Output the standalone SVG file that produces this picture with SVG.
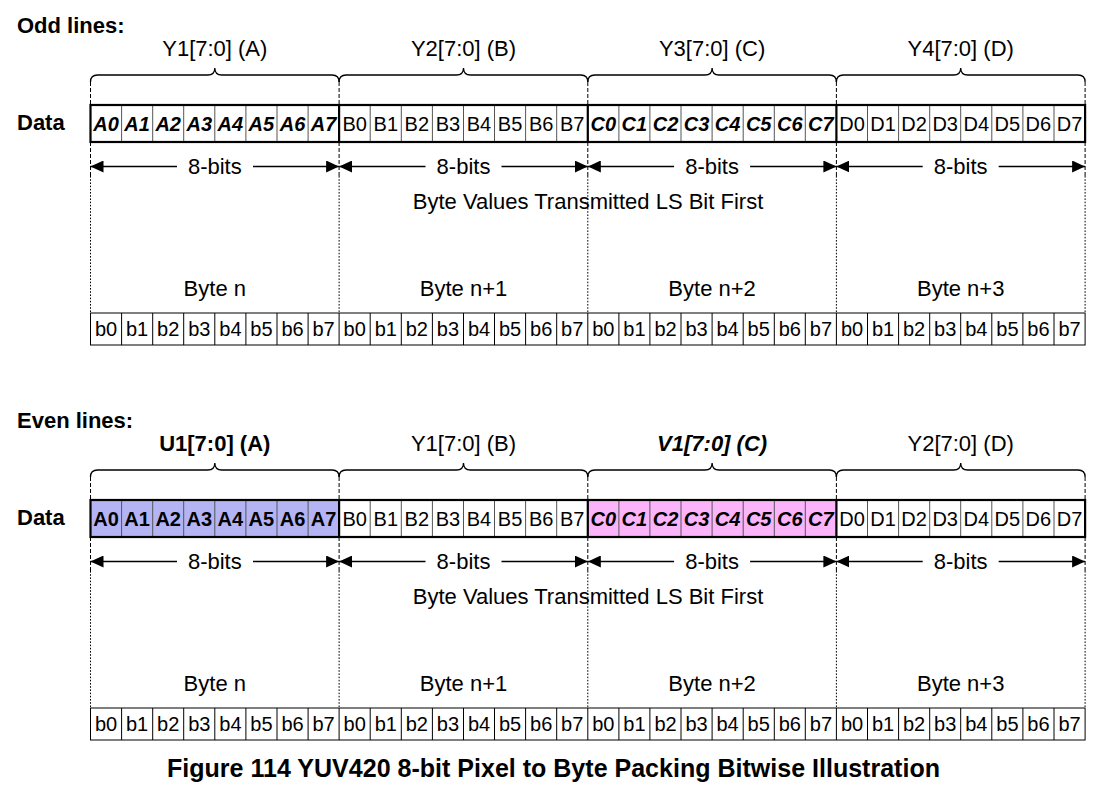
<svg xmlns="http://www.w3.org/2000/svg" width="1104" height="786" viewBox="0 0 1104 786">
<defs>
<marker id="ah" viewBox="0 0 13 12" markerWidth="13" markerHeight="12" refX="13" refY="6" orient="auto" markerUnits="userSpaceOnUse"><path d="M0,0 L13,6 L0,12 z" fill="#000"/></marker>
<style>
text{font-family:"Liberation Sans",Arial,sans-serif;fill:#000}
.h{font-size:22px;font-weight:bold}
.lb{font-size:22px;text-anchor:middle}
.c{font-size:20px;text-anchor:middle}
.bi{font-weight:bold;font-style:italic}
.b{font-weight:bold}
.t{font-size:22px;text-anchor:middle}
.brace{fill:none;stroke:#000;stroke-width:1.3}
.dash{stroke:#000;stroke-width:1;stroke-dasharray:4,2;fill:none}
.dot{stroke:#000;stroke-width:1;stroke-dasharray:1.6,1.6;fill:none}
.arr{stroke:#000;stroke-width:1.3;marker-end:url(#ah)}
.thin{stroke:#555;stroke-width:1;fill:none}
.thinb{stroke:#000;stroke-width:1;fill:none}
.thick{stroke:#000;stroke-width:2.2;fill:none}
</style>
</defs>
<rect width="1104" height="786" fill="#fff"/>

<!-- ================= ODD LINES ================= -->
<g id="odd-lines">
<text class="h" x="17" y="33">Odd lines:</text>
<text class="h" x="17" y="130">Data</text>
</g>

<g id="odd-connectors">
<path class="brace" d="M90.5,82 Q90.5,75 97.5,75 L207.8,75 Q214.8,75 214.8,68 Q214.8,75 221.8,75 L332.1,75 Q339.1,75 339.1,82"/>
<path class="brace" d="M339.1,82 Q339.1,75 346.1,75 L456.5,75 Q463.5,75 463.5,68 Q463.5,75 470.5,75 L580.8,75 Q587.8,75 587.8,82"/>
<path class="brace" d="M587.8,82 Q587.8,75 594.8,75 L705.1,75 Q712.1,75 712.1,68 Q712.1,75 719.1,75 L829.4,75 Q836.4,75 836.4,82"/>
<path class="brace" d="M836.4,82 Q836.4,75 843.4,75 L953.7,75 Q960.7,75 960.7,68 Q960.7,75 967.7,75 L1078.1,75 Q1085.1,75 1085.1,82"/>
<path class="dash" d="M90.5,82V105 M339.1,82V105 M587.8,82V105 M836.4,82V105 M1085.1,82V105 M90.5,142V176 M339.1,142V176 M587.8,142V176 M836.4,142V176 M1085.1,142V176"/>
<path class="dot" d="M90.5,176V313 M339.1,176V313 M587.8,176V313 M836.4,176V313 M1085.1,176V313"/>
<line class="arr" x1="177" y1="166.5" x2="90.5" y2="166.5"/>
<line class="arr" x1="253" y1="166.5" x2="339.1" y2="166.5"/>
<line class="arr" x1="425.5" y1="166.5" x2="339.1" y2="166.5"/>
<line class="arr" x1="501.5" y1="166.5" x2="587.8" y2="166.5"/>
<line class="arr" x1="674.1" y1="166.5" x2="587.8" y2="166.5"/>
<line class="arr" x1="750.1" y1="166.5" x2="836.4" y2="166.5"/>
<line class="arr" x1="922.7" y1="166.5" x2="836.4" y2="166.5"/>
<line class="arr" x1="998.7" y1="166.5" x2="1085.1" y2="166.5"/>
</g>

<g id="odd-labels">
<text class="lb" x="214.8" y="55.5">Y1[7:0] (A)</text>
<text class="lb" x="463.5" y="55.5">Y2[7:0] (B)</text>
<text class="lb" x="712.1" y="55.5">Y3[7:0] (C)</text>
<text class="lb" x="960.7" y="55.5">Y4[7:0] (D)</text>
<text class="t" x="214.8" y="174">8-bits</text>
<text class="t" x="463.5" y="174">8-bits</text>
<text class="t" x="712.1" y="174">8-bits</text>
<text class="t" x="960.7" y="174">8-bits</text>
<text class="t" x="588" y="209">Byte Values Transmitted LS Bit First</text>
<text class="t" x="214.8" y="296">Byte n</text>
<text class="t" x="463.5" y="296">Byte n+1</text>
<text class="t" x="712.1" y="296">Byte n+2</text>
<text class="t" x="960.7" y="296">Byte n+3</text>
</g>

<g id="odd-data-row">
<path class="thin" d="M121.6,105V142 M152.7,105V142 M183.7,105V142 M214.8,105V142 M245.9,105V142 M277,105V142 M308.1,105V142 M370.2,105V142 M401.3,105V142 M432.4,105V142 M463.5,105V142 M494.5,105V142 M525.6,105V142 M556.7,105V142 M618.9,105V142 M649.9,105V142 M681,105V142 M712.1,105V142 M743.2,105V142 M774.3,105V142 M805.3,105V142 M867.5,105V142 M898.6,105V142 M929.7,105V142 M960.7,105V142 M991.8,105V142 M1022.9,105V142 M1054,105V142"/>
<rect class="thick" x="90.5" y="105" width="994.6" height="37"/>
<path class="thick" d="M339.1,105V142 M587.8,105V142 M836.4,105V142"/>
<g class="c bi">
<text x="106" y="130.5">A0</text><text x="137.1" y="130.5">A1</text><text x="168.2" y="130.5">A2</text><text x="199.3" y="130.5">A3</text><text x="230.4" y="130.5">A4</text><text x="261.4" y="130.5">A5</text><text x="292.5" y="130.5">A6</text><text x="323.6" y="130.5">A7</text>
</g>
<g class="c">
<text x="354.7" y="130.5">B0</text><text x="385.8" y="130.5">B1</text><text x="416.8" y="130.5">B2</text><text x="447.9" y="130.5">B3</text><text x="479" y="130.5">B4</text><text x="510.1" y="130.5">B5</text><text x="541.2" y="130.5">B6</text><text x="572.2" y="130.5">B7</text>
</g>
<g class="c bi">
<text x="603.3" y="130.5">C0</text><text x="634.4" y="130.5">C1</text><text x="665.5" y="130.5">C2</text><text x="696.6" y="130.5">C3</text><text x="727.6" y="130.5">C4</text><text x="758.7" y="130.5">C5</text><text x="789.8" y="130.5">C6</text><text x="820.9" y="130.5">C7</text>
</g>
<g class="c">
<text x="852" y="130.5">D0</text><text x="883" y="130.5">D1</text><text x="914.1" y="130.5">D2</text><text x="945.2" y="130.5">D3</text><text x="976.3" y="130.5">D4</text><text x="1007.4" y="130.5">D5</text><text x="1038.4" y="130.5">D6</text><text x="1069.5" y="130.5">D7</text>
</g>
</g>

<g id="odd-bit-row">
<rect class="thinb" x="90.5" y="313" width="994.6" height="32"/>
<path class="thinb" d="M121.6,313V345 M152.7,313V345 M183.7,313V345 M214.8,313V345 M245.9,313V345 M277,313V345 M308.1,313V345 M339.1,313V345 M370.2,313V345 M401.3,313V345 M432.4,313V345 M463.5,313V345 M494.5,313V345 M525.6,313V345 M556.7,313V345 M587.8,313V345 M618.9,313V345 M649.9,313V345 M681,313V345 M712.1,313V345 M743.2,313V345 M774.3,313V345 M805.3,313V345 M836.4,313V345 M867.5,313V345 M898.6,313V345 M929.7,313V345 M960.7,313V345 M991.8,313V345 M1022.9,313V345 M1054,313V345"/>
<g class="c">
<text x="106" y="335.5">b0</text><text x="137.1" y="335.5">b1</text><text x="168.2" y="335.5">b2</text><text x="199.3" y="335.5">b3</text><text x="230.4" y="335.5">b4</text><text x="261.4" y="335.5">b5</text><text x="292.5" y="335.5">b6</text><text x="323.6" y="335.5">b7</text>
<text x="354.7" y="335.5">b0</text><text x="385.8" y="335.5">b1</text><text x="416.8" y="335.5">b2</text><text x="447.9" y="335.5">b3</text><text x="479" y="335.5">b4</text><text x="510.1" y="335.5">b5</text><text x="541.2" y="335.5">b6</text><text x="572.2" y="335.5">b7</text>
<text x="603.3" y="335.5">b0</text><text x="634.4" y="335.5">b1</text><text x="665.5" y="335.5">b2</text><text x="696.6" y="335.5">b3</text><text x="727.6" y="335.5">b4</text><text x="758.7" y="335.5">b5</text><text x="789.8" y="335.5">b6</text><text x="820.9" y="335.5">b7</text>
<text x="852" y="335.5">b0</text><text x="883" y="335.5">b1</text><text x="914.1" y="335.5">b2</text><text x="945.2" y="335.5">b3</text><text x="976.3" y="335.5">b4</text><text x="1007.4" y="335.5">b5</text><text x="1038.4" y="335.5">b6</text><text x="1069.5" y="335.5">b7</text>
</g>
</g>

<!-- ================= EVEN LINES ================= -->
<g id="even-lines">
<text class="h" x="17" y="428">Even lines:</text>
<text class="h" x="17" y="525">Data</text>
</g>

<g id="even-connectors" transform="translate(0,395)">
<path class="brace" d="M90.5,82 Q90.5,75 97.5,75 L207.8,75 Q214.8,75 214.8,68 Q214.8,75 221.8,75 L332.1,75 Q339.1,75 339.1,82"/>
<path class="brace" d="M339.1,82 Q339.1,75 346.1,75 L456.5,75 Q463.5,75 463.5,68 Q463.5,75 470.5,75 L580.8,75 Q587.8,75 587.8,82"/>
<path class="brace" d="M587.8,82 Q587.8,75 594.8,75 L705.1,75 Q712.1,75 712.1,68 Q712.1,75 719.1,75 L829.4,75 Q836.4,75 836.4,82"/>
<path class="brace" d="M836.4,82 Q836.4,75 843.4,75 L953.7,75 Q960.7,75 960.7,68 Q960.7,75 967.7,75 L1078.1,75 Q1085.1,75 1085.1,82"/>
<path class="dash" d="M90.5,82V105 M339.1,82V105 M587.8,82V105 M836.4,82V105 M1085.1,82V105 M90.5,142V176 M339.1,142V176 M587.8,142V176 M836.4,142V176 M1085.1,142V176"/>
<path class="dot" d="M90.5,176V313 M339.1,176V313 M587.8,176V313 M836.4,176V313 M1085.1,176V313"/>
<line class="arr" x1="177" y1="166.5" x2="90.5" y2="166.5"/>
<line class="arr" x1="253" y1="166.5" x2="339.1" y2="166.5"/>
<line class="arr" x1="425.5" y1="166.5" x2="339.1" y2="166.5"/>
<line class="arr" x1="501.5" y1="166.5" x2="587.8" y2="166.5"/>
<line class="arr" x1="674.1" y1="166.5" x2="587.8" y2="166.5"/>
<line class="arr" x1="750.1" y1="166.5" x2="836.4" y2="166.5"/>
<line class="arr" x1="922.7" y1="166.5" x2="836.4" y2="166.5"/>
<line class="arr" x1="998.7" y1="166.5" x2="1085.1" y2="166.5"/>
</g>

<g id="even-labels">
<text class="lb b" x="214.8" y="450.5">U1[7:0] (A)</text>
<text class="lb" x="463.5" y="450.5">Y1[7:0] (B)</text>
<text class="lb bi" x="712.1" y="450.5">V1[7:0] (C)</text>
<text class="lb" x="960.7" y="450.5">Y2[7:0] (D)</text>
<text class="t" x="214.8" y="569">8-bits</text>
<text class="t" x="463.5" y="569">8-bits</text>
<text class="t" x="712.1" y="569">8-bits</text>
<text class="t" x="960.7" y="569">8-bits</text>
<text class="t" x="588" y="604">Byte Values Transmitted LS Bit First</text>
<text class="t" x="214.8" y="691">Byte n</text>
<text class="t" x="463.5" y="691">Byte n+1</text>
<text class="t" x="712.1" y="691">Byte n+2</text>
<text class="t" x="960.7" y="691">Byte n+3</text>
</g>

<g id="even-data-row">
<rect x="90.5" y="500" width="248.6" height="37" fill="#b4b4f5"/>
<rect x="587.8" y="500" width="248.6" height="37" fill="#fbb4fa"/>
<path class="thin" transform="translate(0,395)" d="M121.6,105V142 M152.7,105V142 M183.7,105V142 M214.8,105V142 M245.9,105V142 M277,105V142 M308.1,105V142 M370.2,105V142 M401.3,105V142 M432.4,105V142 M463.5,105V142 M494.5,105V142 M525.6,105V142 M556.7,105V142 M618.9,105V142 M649.9,105V142 M681,105V142 M712.1,105V142 M743.2,105V142 M774.3,105V142 M805.3,105V142 M867.5,105V142 M898.6,105V142 M929.7,105V142 M960.7,105V142 M991.8,105V142 M1022.9,105V142 M1054,105V142"/>
<rect class="thick" x="90.5" y="500" width="994.6" height="37"/>
<path class="thick" d="M339.1,500V537 M587.8,500V537 M836.4,500V537"/>
<g class="c b">
<text x="106" y="525.5">A0</text><text x="137.1" y="525.5">A1</text><text x="168.2" y="525.5">A2</text><text x="199.3" y="525.5">A3</text><text x="230.4" y="525.5">A4</text><text x="261.4" y="525.5">A5</text><text x="292.5" y="525.5">A6</text><text x="323.6" y="525.5">A7</text>
</g>
<g class="c">
<text x="354.7" y="525.5">B0</text><text x="385.8" y="525.5">B1</text><text x="416.8" y="525.5">B2</text><text x="447.9" y="525.5">B3</text><text x="479" y="525.5">B4</text><text x="510.1" y="525.5">B5</text><text x="541.2" y="525.5">B6</text><text x="572.2" y="525.5">B7</text>
</g>
<g class="c bi">
<text x="603.3" y="525.5">C0</text><text x="634.4" y="525.5">C1</text><text x="665.5" y="525.5">C2</text><text x="696.6" y="525.5">C3</text><text x="727.6" y="525.5">C4</text><text x="758.7" y="525.5">C5</text><text x="789.8" y="525.5">C6</text><text x="820.9" y="525.5">C7</text>
</g>
<g class="c">
<text x="852" y="525.5">D0</text><text x="883" y="525.5">D1</text><text x="914.1" y="525.5">D2</text><text x="945.2" y="525.5">D3</text><text x="976.3" y="525.5">D4</text><text x="1007.4" y="525.5">D5</text><text x="1038.4" y="525.5">D6</text><text x="1069.5" y="525.5">D7</text>
</g>
</g>

<g id="even-bit-row" transform="translate(0,395)">
<rect class="thinb" x="90.5" y="313" width="994.6" height="32"/>
<path class="thinb" d="M121.6,313V345 M152.7,313V345 M183.7,313V345 M214.8,313V345 M245.9,313V345 M277,313V345 M308.1,313V345 M339.1,313V345 M370.2,313V345 M401.3,313V345 M432.4,313V345 M463.5,313V345 M494.5,313V345 M525.6,313V345 M556.7,313V345 M587.8,313V345 M618.9,313V345 M649.9,313V345 M681,313V345 M712.1,313V345 M743.2,313V345 M774.3,313V345 M805.3,313V345 M836.4,313V345 M867.5,313V345 M898.6,313V345 M929.7,313V345 M960.7,313V345 M991.8,313V345 M1022.9,313V345 M1054,313V345"/>
<g class="c">
<text x="106" y="335.5">b0</text><text x="137.1" y="335.5">b1</text><text x="168.2" y="335.5">b2</text><text x="199.3" y="335.5">b3</text><text x="230.4" y="335.5">b4</text><text x="261.4" y="335.5">b5</text><text x="292.5" y="335.5">b6</text><text x="323.6" y="335.5">b7</text>
<text x="354.7" y="335.5">b0</text><text x="385.8" y="335.5">b1</text><text x="416.8" y="335.5">b2</text><text x="447.9" y="335.5">b3</text><text x="479" y="335.5">b4</text><text x="510.1" y="335.5">b5</text><text x="541.2" y="335.5">b6</text><text x="572.2" y="335.5">b7</text>
<text x="603.3" y="335.5">b0</text><text x="634.4" y="335.5">b1</text><text x="665.5" y="335.5">b2</text><text x="696.6" y="335.5">b3</text><text x="727.6" y="335.5">b4</text><text x="758.7" y="335.5">b5</text><text x="789.8" y="335.5">b6</text><text x="820.9" y="335.5">b7</text>
<text x="852" y="335.5">b0</text><text x="883" y="335.5">b1</text><text x="914.1" y="335.5">b2</text><text x="945.2" y="335.5">b3</text><text x="976.3" y="335.5">b4</text><text x="1007.4" y="335.5">b5</text><text x="1038.4" y="335.5">b6</text><text x="1069.5" y="335.5">b7</text>
</g>
</g>

<g id="caption">
<text x="167" y="777" style="font-size:25px;font-weight:bold" textLength="773" lengthAdjust="spacingAndGlyphs">Figure 114 YUV420 8-bit Pixel to Byte Packing Bitwise Illustration</text>
</g>
</svg>
